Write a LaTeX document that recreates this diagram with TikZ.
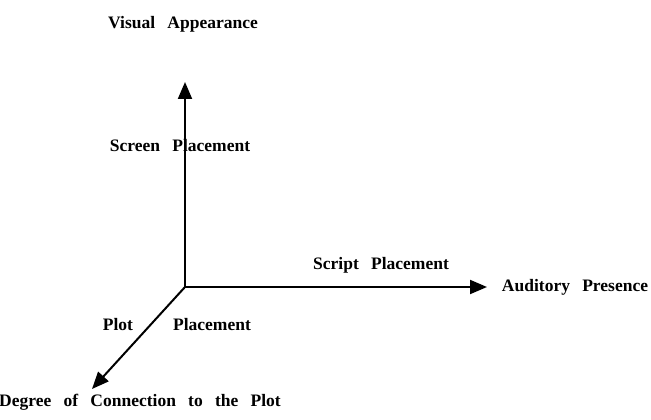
\documentclass[tikz,border=0pt]{standalone}
\usepackage{fontspec}
\setmainfont{Liberation Serif}[WordSpace={2.8}]
\usetikzlibrary{arrows.meta}
\begin{document}
\begin{tikzpicture}[x=1pt,y=-1pt,
  lbl/.style={font=\fontsize{17.5}{20}\selectfont\bfseries, inner sep=0pt},
  axis/.style={line width=2pt, -{Triangle[length=17pt,width=14pt]}}]
\useasboundingbox (0,0) rectangle (651,420);
\coordinate (o) at (185,287);
\coordinate (up) at (185,82);
\coordinate (rt) at (487,287);
\coordinate (dl) at (92,389);
\draw[axis] (o) -- (up);
\draw[axis] (o) -- (rt);
\draw[axis] (o) -- (dl);
\node[lbl] (va) at (183,24) {Visual Appearance};
\node[lbl] (sp) at (180,146) {Screen Placement};
\node[lbl] (scp) at (381,265) {Script Placement};
\node[lbl] (ap) at (575,287) {Auditory Presence};
\node[lbl] (plot) at (118,325) {Plot};
\node[lbl] (pl) at (212,325) {Placement};
\node[lbl] (dc) at (140,402) {Degree of Connection to the Plot};
\end{tikzpicture}
\end{document}
